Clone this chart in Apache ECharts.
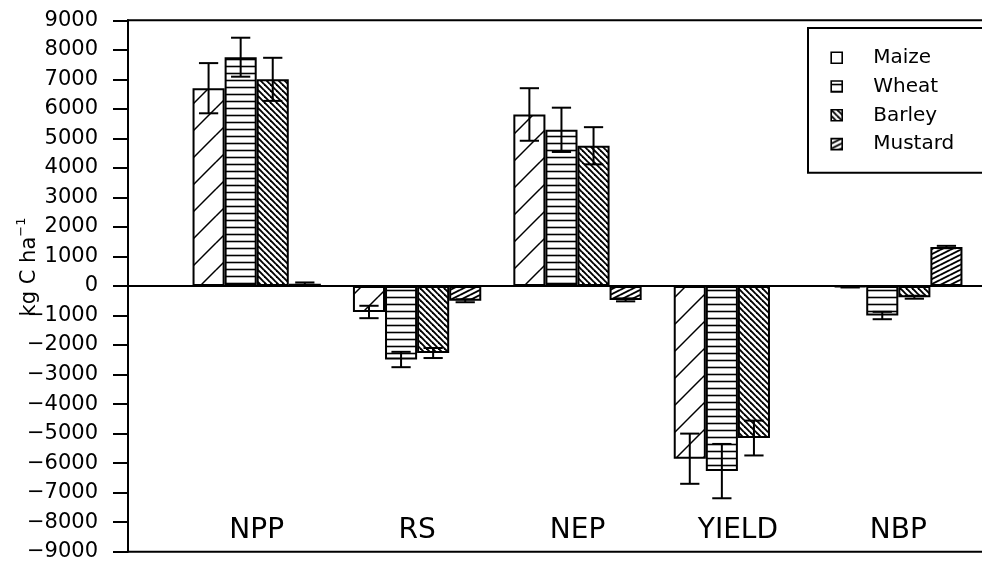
<!DOCTYPE html>
<html>
<head>
<meta charset="utf-8">
<script src="https://cdn.jsdelivr.net/npm/echarts/dist/echarts.min.js"></script>
<style>
  html, body { margin: 0; padding: 0; background: #fff; }
  #chart { width: 982px; height: 561px; }
</style>
</head>
<body>
<div id="chart"></div>
<script>
// Carbon budget components per crop (kg C ha-1), mean and error
const categories = ['NPP', 'RS', 'NEP', 'YIELD', 'NBP'];
const crops = ['Maize', 'Wheat', 'Barley', 'Mustard'];

const maize   = [6700,  -880, 5810, -5850,   -30];
const wheat   = [7750, -2490, 5290, -6270, -1000];
const barley  = [7000, -2270, 4750, -5150,  -380];
const mustard = [  80,  -500, -470,  null,  1320];

const maizeErr   = [850, 210, 890, 850,  20];
const wheatErr   = [660, 260, 750, 920, 125];
const barleyErr  = [730, 170, 630, 590,  50];
const mustardErr = [ 40,  50,  50, null, 40];

const yMin = -9000;
const yMax = 9000;
const yStep = 1000;

const FONT = 'DejaVu Sans';

// Hatch fill tiles drawn on small canvases
function makeTile(w, h, lineWidth, segs) {
  const c = document.createElement('canvas');
  c.width = w; c.height = h;
  const g = c.getContext('2d');
  g.fillStyle = '#fff';
  g.fillRect(0, 0, w, h);
  g.strokeStyle = '#000';
  g.lineWidth = lineWidth;
  for (const dx of [-w, 0, w]) {
    for (const dy of [-h, 0, h]) {
      g.beginPath();
      segs.forEach(([x1, y1, x2, y2]) => {
        g.moveTo(x1 + dx, y1 + dy);
        g.lineTo(x2 + dx, y2 + dy);
      });
      g.stroke();
    }
  }
  return c;
}

const tiles = [
  makeTile(27, 27, 1.5, [[0, 27, 27, 0]]),     // sparse forward diagonals
  makeTile(8, 7, 1.6, [[0, 3.5, 8, 3.5]]),     // horizontal lines
  makeTile(6, 6, 1.9, [[0, 0, 6, 6]]),         // dense back diagonals
  makeTile(10, 5, 1.9, [[0, 5, 10, 0]])        // dense shallow diagonals
];

const values = [maize, wheat, barley, mustard];
const errors = [maizeErr, wheatErr, barleyErr, mustardErr];

const series = [];

crops.forEach((name, k) => {
  series.push({
    type: 'bar',
    name: name,
    xAxisIndex: 0,
    yAxisIndex: 0,
    data: values[k],
    barGap: '0%',
    barCategoryGap: '20%',
    itemStyle: {
      color: { image: tiles[k], repeat: 'repeat' },
      borderColor: '#000',
      borderWidth: 2
    },
    emphasis: { disabled: true },
    silent: true
  });
});

// Error bars with caps, placed at each bar's centre
crops.forEach((name, k) => {
  const data = [];
  categories.forEach((c, i) => {
    const v = values[k][i], e = errors[k][i];
    if (v != null && e != null) data.push([i, v - e, v + e]);
  });
  series.push({
    type: 'custom',
    xAxisIndex: 0,
    yAxisIndex: 0,
    z: 5,
    silent: true,
    data: data,
    renderItem: function (params, api) {
      const band = api.size([1, 0])[0];
      const bw = band * 0.8 / 4;
      const idx = api.value(0);
      const cx = api.coord([idx, 0])[0] + (k - 1.5) * bw;
      const yl = api.coord([idx, api.value(1)])[1];
      const yh = api.coord([idx, api.value(2)])[1];
      const cap = bw * 0.3;
      const st = { stroke: '#000', lineWidth: 2 };
      return {
        type: 'group',
        children: [
          { type: 'line', shape: { x1: cx, y1: yl, x2: cx, y2: yh }, style: st },
          { type: 'line', shape: { x1: cx - cap, y1: yl, x2: cx + cap, y2: yl }, style: st },
          { type: 'line', shape: { x1: cx - cap, y1: yh, x2: cx + cap, y2: yh }, style: st }
        ]
      };
    }
  });
});

const option = {
  animation: false,
  backgroundColor: '#fff',
  textStyle: { fontFamily: FONT },
  grid: [
    { left: 176.5, right: 3.5, top: 20.3, bottom: 9.3, outerBoundsMode: 'none' },
    {
      left: 128, right: -13, top: 20.3, bottom: 9.3, outerBoundsMode: 'none',
      show: true, borderColor: '#000', borderWidth: 2, backgroundColor: 'transparent'
    }
  ],
  xAxis: [
    {
      type: 'category',
      gridIndex: 0,
      data: categories,
      axisLine: { show: false, onZero: false },
      axisTick: { show: false },
      axisLabel: {
        inside: true,
        margin: 7,
        color: '#000',
        fontFamily: FONT,
        fontSize: 28,
        lineHeight: 28,
        interval: 0
      },
      splitLine: { show: false }
    },
    {
      type: 'value',
      gridIndex: 1,
      min: 0,
      max: 1,
      axisLine: { show: true, onZero: true, lineStyle: { color: '#000', width: 2 } },
      axisTick: { show: false },
      axisLabel: { show: false },
      splitLine: { show: false }
    }
  ],
  yAxis: [
    {
      type: 'value',
      gridIndex: 0,
      min: yMin,
      max: yMax,
      show: false,
      splitLine: { show: false }
    },
    {
      type: 'value',
      gridIndex: 1,
      min: yMin,
      max: yMax,
      interval: yStep,
      axisLine: { show: true, lineStyle: { color: '#000', width: 2 } },
      axisTick: { show: true, length: 15, lineStyle: { color: '#000', width: 2 } },
      axisLabel: {
        margin: 30,
        color: '#000',
        fontFamily: FONT,
        fontSize: 21,
        formatter: v => (v < 0 ? '\u2212' + Math.abs(v) : String(v))
      },
      splitLine: { show: false }
    }
  ],
  legend: {
    data: crops,
    orient: 'vertical',
    left: 808,
    top: 28,
    padding: [19.7, 40, 18.6, 22.4],
    itemGap: 8.8,
    itemWidth: 11,
    itemHeight: 11,
    icon: 'rect',
    selectedMode: false,
    borderColor: '#000',
    borderWidth: 2,
    backgroundColor: '#fff',
    itemStyle: { borderColor: '#000', borderWidth: 1.6 },
    textStyle: {
      color: '#000',
      fontFamily: FONT,
      fontSize: 20,
      lineHeight: 20,
      padding: [0, 0, 0, 26]
    }
  },
  graphic: [
    {
      type: 'text',
      x: 30,
      y: 267,
      rotation: Math.PI / 2,
      silent: true,
      style: {
        text: '{m|kg C ha}{s|\u22121}',
        align: 'center',
        verticalAlign: 'middle',
        rich: {
          m: { fontFamily: FONT, fontSize: 21, lineHeight: 30, fill: '#000' },
          s: { fontFamily: FONT, fontSize: 13, lineHeight: 14, verticalAlign: 'top', fill: '#000' }
        }
      }
    }
  ],
  series: series
};

const chart = echarts.init(document.getElementById('chart'), null, { renderer: 'canvas' });
chart.setOption(option);
</script>
</body>
</html>
